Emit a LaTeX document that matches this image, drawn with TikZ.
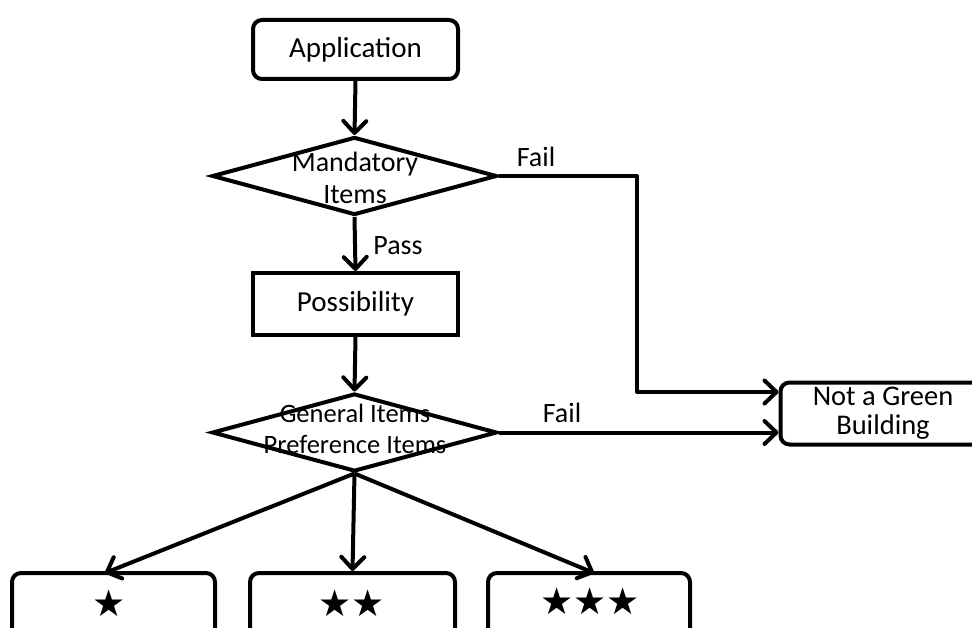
\documentclass[tikz,border=0pt]{standalone}
\usepackage{fontspec}
\setmainfont{Carlito}
\newfontfamily\symfont{DejaVu Sans}
\usetikzlibrary{arrows.meta,shapes.geometric}
\begin{document}
\begin{tikzpicture}[x=1pt,y=-1pt,
  every node/.style={font=\fontsize{29}{31}\selectfont},
  line/.style={line width=4pt,line join=round},
  flow/.style={line, -{Straight Barb[length=12pt,width=23pt,line width=4pt,round]}},
  roundbox/.style={draw,line width=4pt,rounded corners=9pt,inner sep=0pt},
  plainbox/.style={draw,line width=4pt,inner sep=0pt},
  decision/.style={draw,line width=4pt,diamond,inner sep=0pt,
    minimum width=285pt,minimum height=78pt},
  lbl/.style={inner sep=0pt,font=\fontsize{28}{30}\selectfont},
  small/.style={inner sep=0pt,font=\fontsize{26.5}{28}\selectfont},
  stars/.style={inner sep=0pt,font=\symfont\fontsize{37}{39}\selectfont}]
\useasboundingbox (0,0) rectangle (972,628);
\clip (0,0) rectangle (972,628);

% main column
\node[roundbox,minimum width=205pt,minimum height=59pt] (app) at (355.5,49.5) {Application};
\node[decision] (mand) at (354.5,176) {};
\node[lbl] (mandA) at (355,164) {Mandatory};
\node[lbl] (mandB) at (355,195) {Items};
\node[plainbox,minimum width=205pt,minimum height=62pt] (poss) at (355.5,304) {Possibility};
\node[decision] (gen) at (354.5,432.5) {};
\node[small] (genA) at (355,413) {General Items};
\node[small] (genB) at (355,445) {Preference Items};

% outcome boxes
\node[roundbox,minimum width=205pt,minimum height=62pt,align=center,
      font=\fontsize{28.5}{29}\selectfont] (notg) at (883,413.5) {Not a Green\\Building};
\node[roundbox,minimum width=203pt,minimum height=80pt] (s1) at (113.5,613) {};
\node[roundbox,minimum width=205pt,minimum height=80pt] (s2) at (352.5,613) {};
\node[roundbox,minimum width=202pt,minimum height=80pt] (s3) at (589,613) {};
\node[stars] (s1t) at (109,603) {★};
\node[stars] (s2t) at (352,603) {★★};
\node[stars] (s3t) at (590,601) {★★★};

% connectors
\coordinate (failturn1) at (637,176);
\coordinate (failturn2) at (637,392);
\coordinate (s1in) at (105,573);
\coordinate (s3in) at (594,573);
\draw[flow] (app.south) -- (mand.north);
\draw[flow] (mand.south) -- (poss.north);
\draw[flow] (poss.south) -- (gen.north);
\draw[flow] (mand.east) -- (failturn1) -- (failturn2) -- (notg.west |- failturn2);
\draw[flow] (gen.east) -- (notg.west |- gen.east);
\draw[flow] (gen.south) -- (s1in);
\draw[flow] (gen.south) -- (s2.north);
\draw[flow] (gen.south) -- (s3in);

% branch labels
\node[lbl] (fail1) at (536,157) {Fail};
\node[lbl] (pass) at (398,246) {Pass};
\node[lbl] (fail2) at (562,413) {Fail};
\end{tikzpicture}
\end{document}
